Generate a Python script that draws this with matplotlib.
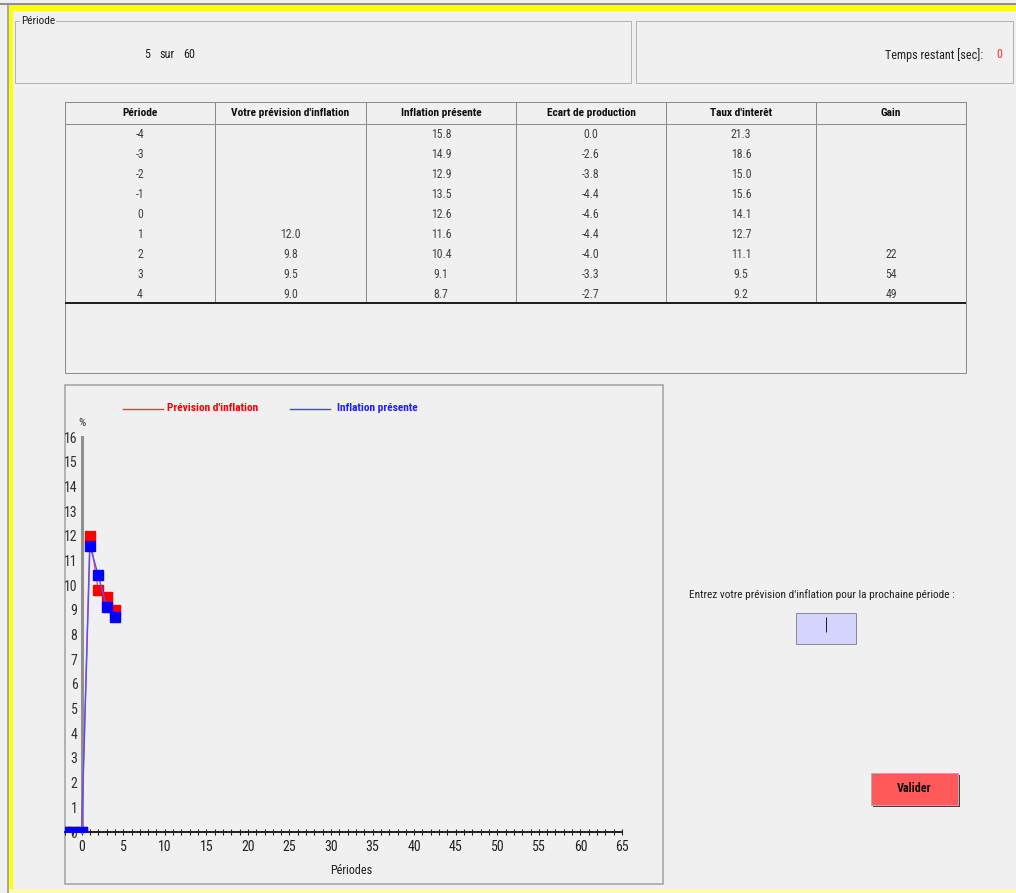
import numpy as np
import matplotlib
matplotlib.use("Agg")
import matplotlib.pyplot as plt
from matplotlib.patches import Rectangle
from matplotlib.ticker import MultipleLocator

plt.rcParams['font.family'] = ['Liberation Sans Narrow', 'Roboto Condensed',
                               'Liberation Sans', 'DejaVu Sans']

# Données du tableau
entetes = ["Période", "Votre prévision d'inflation", "Inflation présente",
           "Ecart de production", "Taux d'interêt", "Gain"]
periodes = [-4, -3, -2, -1, 0, 1, 2, 3, 4]
prevision = [None, None, None, None, None, 12.0, 9.8, 9.5, 9.0]
inflation = [15.8, 14.9, 12.9, 13.5, 12.6, 11.6, 10.4, 9.1, 8.7]
ecart = [0.0, -2.6, -3.8, -4.4, -4.6, -4.4, -4.0, -3.3, -2.7]
taux = [21.3, 18.6, 15.0, 15.6, 14.1, 12.7, 11.1, 9.5, 9.2]
gain = [None, None, None, None, None, None, 22, 54, 49]

# Données du graphique
graph_periodes = [-4, -3, -2, -1, 0, 1, 2, 3, 4]
graph_prevision = [0, 0, 0, 0, 0, 12.0, 9.8, 9.5, 9.0]
graph_inflation = [0, 0, 0, 0, 0, 11.6, 10.4, 9.1, 8.7]

periode_courante = 5
nb_periodes = 60
temps_restant = 0

W, H = 1016, 893
BG = "#f0f0f0"
GRIS = "#a0a0a0"
FS = 8.2

fig = plt.figure(figsize=(W / 100, H / 100), dpi=100, facecolor=BG)

# Axe de fond en coordonnées pixels
bg = fig.add_axes([0, 0, 1, 1])
bg.set_xlim(0, W)
bg.set_ylim(H, 0)
bg.axis("off")


def rect(x0, y0, x1, y1, fc="none", ec=GRIS, lw=1.0, z=1):
    bg.add_patch(Rectangle((x0, y0), x1 - x0, y1 - y0, facecolor=fc,
                           edgecolor=ec, linewidth=lw * 0.72, zorder=z))


def hline(x0, x1, y, c=GRIS, lw=1.0):
    bg.plot([x0, x1], [y, y], color=c, lw=lw * 0.72, solid_capstyle="butt")


def vline(x, y0, y1, c=GRIS, lw=1.0):
    bg.plot([x, x], [y0, y1], color=c, lw=lw * 0.72, solid_capstyle="butt")


# Cadre jaune
hline(0, W, 3.5, c="#909090", lw=2)
bg.add_patch(Rectangle((9, 5), W - 9, 6, facecolor="#ffff00", edgecolor="none"))
bg.add_patch(Rectangle((9, 5), 4, H - 5, facecolor="#ffff00", edgecolor="none"))
vline(8, 3, H, c="#909090", lw=1.5)
bg.add_patch(Rectangle((9, 889), W - 9, 4, facecolor="#fffbb0", edgecolor="none"))

# Panneau "Période"
rect(15, 21, 631, 83, ec="#b4b4b4")
bg.text(21, 21, "Période", fontsize=FS, va="center", ha="left", color="#202020",
        bbox=dict(facecolor=BG, edgecolor="none", pad=1))
bg.text(147, 55, str(periode_courante), fontsize=FS + 0.5, va="center",
        ha="center", color="#202020")
bg.text(167, 55, "sur", fontsize=FS + 0.5, va="center", ha="center",
        color="#202020")
bg.text(189, 55, str(nb_periodes), fontsize=FS + 0.5, va="center", ha="center",
        color="#202020")

# Panneau "Temps restant"
rect(636, 21, 1013, 83, ec="#b4b4b4")
bg.text(983, 55, "Temps restant [sec]:", fontsize=FS + 0.5, va="center",
        ha="right", color="#202020")
bg.text(999, 55, str(temps_restant), fontsize=FS + 0.5, va="center",
        ha="center", color="#ff3030")

# Tableau
cols = [65, 215, 366, 516, 666, 816, 966]
rect(65, 102, 966, 373, ec="#8c8c8c")
hline(65, 966, 124, c="#8c8c8c")
for x in cols[1:-1]:
    vline(x, 102, 303, c="#8c8c8c")
hline(65, 966, 303, c="#202020", lw=2)
for i, h in enumerate(entetes):
    bg.text((cols[i] + cols[i + 1]) / 2, 113.5, h, fontsize=FS, fontweight="bold",
            ha="center", va="center", color="#101010")


def fmt(v, dec=1):
    if v is None:
        return ""
    return f"{v:.{dec}f}"


for r in range(len(periodes)):
    yc = 134 + r * 20
    valeurs = [str(periodes[r]), fmt(prevision[r]), fmt(inflation[r]),
               fmt(ecart[r]), fmt(taux[r]), fmt(gain[r], 0)]
    for i, v in enumerate(valeurs):
        bg.text((cols[i] + cols[i + 1]) / 2, yc, v, fontsize=FS + 0.3,
                ha="center", va="center", color="#404040")

# Panneau du graphique
rect(65, 385, 663, 884, ec="#a0a0a0", lw=1.5)

# Légende
bg.plot([123, 163], [409, 409], color="#ff3030", lw=1.0)
bg.text(167, 408, "Prévision d'inflation", fontsize=FS, fontweight="bold",
        color="#ff0000", ha="left", va="center")
bg.plot([290, 330], [409, 409], color="#4040ff", lw=1.0)
bg.text(337, 408, "Inflation présente", fontsize=FS, fontweight="bold",
        color="#2020ff", ha="left", va="center")
bg.text(82, 423, "%", fontsize=FS, ha="center", va="center", color="#303030")
bg.text(351, 871, "Périodes", fontsize=FS + 0.5, ha="center", va="center",
        color="#202020")

# Saisie de la prévision
bg.text(822, 595, "Entrez votre prévision d'inflation pour la prochaine période :",
        fontsize=FS, ha="center", va="center", color="#202020")
rect(796, 613, 856, 644, fc="#d4d4ff", ec="#8c8c8c", lw=1)
vline(826, 617, 632, c="#202020", lw=1)

# Bouton Valider
rect(873, 775, 960, 807, fc="#404040", ec="none")
rect(871, 773, 958, 805, fc="#ff5a5a", ec="#b0b0b0", lw=1, z=2)
bg.text(914, 789, "Valider", fontsize=FS + 0.5, fontweight="bold", ha="center",
        va="center", color="#101010", zorder=3)

# Graphique
ax = fig.add_axes([65 / W, 1 - 832 / H, (622 - 65) / W, (832 - 437) / H])
ax.set_facecolor("none")
ax.set_xlim(-2, 65)
ax.set_ylim(0, 16)

ax.plot(graph_periodes, graph_prevision, color="#ff5050", lw=1.0,
        marker="s", markersize=6.5, markerfacecolor="#ff0000",
        markeredgecolor="#ff0000", zorder=3)
ax.plot(graph_periodes, graph_inflation, color="#5050ff", lw=1.0,
        marker="s", markersize=6.5, markerfacecolor="#0000ff",
        markeredgecolor="#0000ff", zorder=4)

for s in ["top", "right"]:
    ax.spines[s].set_visible(False)
ax.spines["left"].set_position(("data", 0))
ax.spines["left"].set_color("#909090")
ax.spines["left"].set_linewidth(2.2)
ax.spines["bottom"].set_color("#202020")
ax.spines["bottom"].set_linewidth(1.4)
ax.spines["left"].set_zorder(2)

ax.xaxis.set_minor_locator(MultipleLocator(1))
ax.set_xticks(np.arange(0, 66, 5))
ax.tick_params(axis="x", which="both", direction="inout", length=5, width=0.8,
               color="#202020", labelsize=10, labelcolor="#202020", pad=3)
ax.set_yticks(np.arange(0, 17, 1))
ax.tick_params(axis="y", length=0, labelsize=10, labelcolor="#303030", pad=3)

fig.savefig("out.png", dpi=100, facecolor=BG)
